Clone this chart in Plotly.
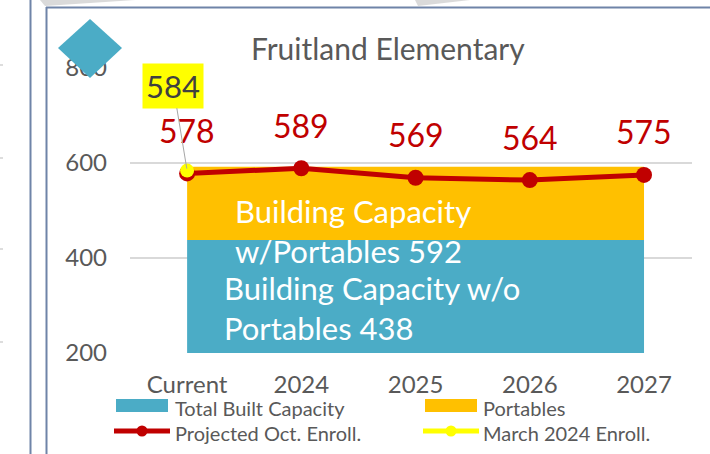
import plotly.graph_objects as go

# ---- data ----
categories = ["Current", "2024", "2025", "2026", "2027"]
built_capacity = [438, 438, 438, 438, 438]
portables = [154, 154, 154, 154, 154]          # 438 + 154 = 592
projected_enroll = [578, 589, 569, 564, 575]
march_enroll_idx = [0]
march_enroll = [584]
y_ticks = [200, 400, 600, 800]
title_text = "Fruitland Elementary"
cap_with_text = "Building Capacity<br>w/Portables 592"
cap_without_text = "Building Capacity w/o<br>Portables 438"
legend_names = ["Total Built Capacity", "Portables", "Projected Oct. Enroll.", "March 2024 Enroll."]

TEAL = "#4BACC6"
ORANGE = "#FFC000"
RED = "#C00000"
YELLOW = "#FFFF00"
GRAY_TXT = "#595959"
FONT = "Lato"

W, H = 710, 454
L, R, T, B = 130, 18, 68, 101
PW, PH = W - L - R, H - T - B


def px(x):
    return (x - L) / PW


def py(y):
    return (H - B - y) / PH


fig = go.Figure()
fig.add_trace(go.Scatter(x=categories, y=built_capacity, stackgroup="cap", mode="none",
                         fillcolor=TEAL, name=legend_names[0], showlegend=False))
fig.add_trace(go.Scatter(x=categories, y=portables, stackgroup="cap", mode="none",
                         fillcolor=ORANGE, name=legend_names[1], showlegend=False))
fig.add_trace(go.Scatter(x=categories, y=projected_enroll, mode="lines+markers",
                         line=dict(color=RED, width=5), marker=dict(color=RED, size=16),
                         name=legend_names[2], showlegend=False))
fig.add_trace(go.Scatter(x=[categories[i] for i in march_enroll_idx], y=march_enroll, mode="markers",
                         marker=dict(color=YELLOW, size=14), name=legend_names[3], showlegend=False))

annotations = []
# data labels (category index used as x position)
for i, v in enumerate(projected_enroll):
    annotations.append(dict(x=i, y=v, xref="x", yref="y", text=str(v), showarrow=False,
                            yshift=43, font=dict(family=FONT, size=32, color=RED)))
annotations.append(dict(x=march_enroll_idx[0], y=march_enroll[0], xref="x", yref="y",
                        text=str(march_enroll[0]), showarrow=True, arrowhead=0, arrowwidth=1,
                        arrowcolor="#A6A6A6", ax=-14, ay=-85, bgcolor=YELLOW, borderpad=3,
                        standoff=2, font=dict(family=FONT, size=31, color="#404040")))
# area labels
annotations.append(dict(x=px(233), y=py(231), xref="paper", yref="paper", text=cap_with_text,
                        showarrow=False, xanchor="left", yanchor="middle", align="left",
                        font=dict(family=FONT, size=31, color="white")))
annotations.append(dict(x=px(222), y=py(308), xref="paper", yref="paper", text=cap_without_text,
                        showarrow=False, xanchor="left", yanchor="middle", align="left",
                        font=dict(family=FONT, size=31, color="white")))
# title
annotations.append(dict(x=px(388), y=py(48), xref="paper", yref="paper", text=title_text,
                        showarrow=False, xanchor="center", yanchor="middle",
                        font=dict(family=FONT, size=30, color=GRAY_TXT)))
# legend text
leg_pos = [(173, 408), (481, 408), (173, 433), (481, 433)]
for name, (lx, ly) in zip(legend_names, leg_pos):
    annotations.append(dict(x=px(lx), y=py(ly), xref="paper", yref="paper", text=name,
                            showarrow=False, xanchor="left", yanchor="middle",
                            font=dict(family=FONT, size=20, color=GRAY_TXT)))

shapes = []
# legend symbols
shapes.append(dict(type="rect", xref="paper", yref="paper", x0=px(116), x1=px(168), y0=py(412), y1=py(399),
                   fillcolor=TEAL, line=dict(width=0)))
shapes.append(dict(type="rect", xref="paper", yref="paper", x0=px(425), x1=px(477), y0=py(412), y1=py(399),
                   fillcolor=ORANGE, line=dict(width=0)))
shapes.append(dict(type="line", xref="paper", yref="paper", x0=px(114), x1=px(170), y0=py(431), y1=py(431),
                   line=dict(color=RED, width=5)))
shapes.append(dict(type="circle", xref="paper", yref="paper", x0=px(136.5), x1=px(147.5), y0=py(436.5), y1=py(425.5),
                   fillcolor=RED, line=dict(width=0)))
shapes.append(dict(type="line", xref="paper", yref="paper", x0=px(423), x1=px(479), y0=py(431), y1=py(431),
                   line=dict(color=YELLOW, width=5)))
shapes.append(dict(type="circle", xref="paper", yref="paper", x0=px(445.5), x1=px(456.5), y0=py(436.5), y1=py(425.5),
                   fillcolor=YELLOW, line=dict(width=0)))
# page frame (screenshot surroundings)
FRAME = "#6F84A8"
shapes.append(dict(type="line", xref="paper", yref="paper", x0=px(30.5), x1=px(30.5), y0=py(0), y1=py(454),
                   line=dict(color=FRAME, width=2)))
shapes.append(dict(type="line", xref="paper", yref="paper", x0=px(46.5), x1=px(46.5), y0=py(7), y1=py(454),
                   line=dict(color=FRAME, width=2)))
shapes.append(dict(type="line", xref="paper", yref="paper", x0=px(46), x1=px(710), y0=py(7.5), y1=py(7.5),
                   line=dict(color=FRAME, width=2)))
# shadows
shapes.append(dict(type="path", xref="paper", yref="paper",
                   path=f"M {px(40)},{py(0)} L {px(135)},{py(0)} L {px(45)},{py(6)} Z",
                   fillcolor="rgba(150,150,150,0.35)", line=dict(width=0)))
shapes.append(dict(type="path", xref="paper", yref="paper",
                   path=f"M {px(415)},{py(0)} L {px(470)},{py(0)} L {px(418)},{py(6)} Z",
                   fillcolor="rgba(150,150,150,0.35)", line=dict(width=0)))
# small marks at left edge
for my in [65, 158, 249, 342]:
    shapes.append(dict(type="line", xref="paper", yref="paper", x0=px(0), x1=px(3), y0=py(my), y1=py(my),
                       line=dict(color="#BBBBBB", width=1)))
# diamond
shapes.append(dict(type="path", xref="paper", yref="paper",
                   path=f"M {px(58)},{py(48)} L {px(90)},{py(19)} L {px(122)},{py(48)} L {px(90)},{py(78)} Z",
                   fillcolor=TEAL, line=dict(width=0), layer="above"))

fig.update_layout(
    width=W, height=H, margin=dict(l=L, r=R, t=T, b=B),
    paper_bgcolor="white", plot_bgcolor="white",
    showlegend=False,
    xaxis=dict(type="category", range=[-0.5, 4.42], showgrid=False, zeroline=False, showline=False,
               tickfont=dict(family=FONT, size=24, color=GRAY_TXT), ticklabelstandoff=15),
    yaxis=dict(range=[200, 800], tickvals=y_ticks, showgrid=True, gridcolor="#D9D9D9", gridwidth=1.5,
               zeroline=False, showline=False,
               tickfont=dict(family=FONT, size=24, color=GRAY_TXT), ticklabelstandoff=22),
    annotations=annotations, shapes=shapes,
)

fig.write_html("out.html", config={"displayModeBar": False},
               post_script="document.body.style.margin='0';")
